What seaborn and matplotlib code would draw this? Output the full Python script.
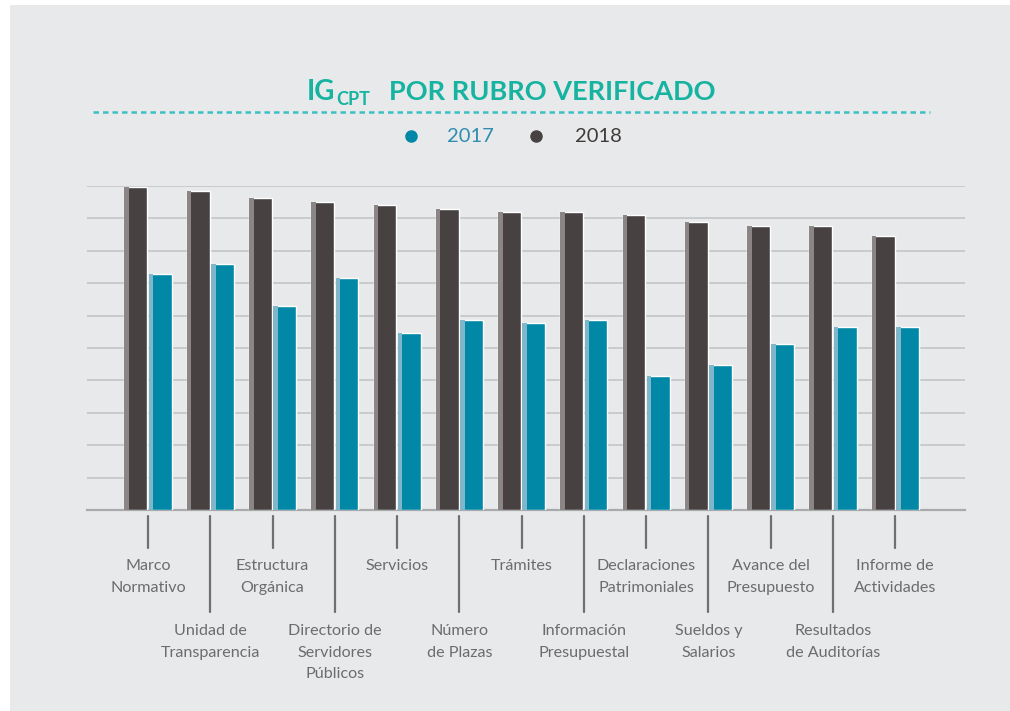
import matplotlib
matplotlib.use("Agg")
import matplotlib.pyplot as plt
import matplotlib.transforms as mtransforms
from matplotlib.patches import Rectangle
from matplotlib.lines import Line2D
import pandas as pd
import seaborn as sns

# data
RUBROS = ["Marco\nNormativo", "Unidad de\nTransparencia", "Estructura\nOrgánica",
          "Directorio de\nServidores\nPúblicos", "Servicios", "Número\nde Plazas",
          "Trámites", "Información\nPresupuestal", "Declaraciones\nPatrimoniales",
          "Sueldos y\nSalarios", "Avance del\nPresupuesto", "Resultados\nde Auditorías",
          "Informe de\nActividades"]
VALS_2018 = [99.6, 98.5, 96.3, 95.2, 94.1, 93.0, 92.0, 92.0, 90.9, 88.9, 87.7, 87.7, 84.6]
VALS_2017 = [72.7, 75.8, 63.0, 71.6, 54.5, 58.6, 57.7, 58.6, 41.4, 44.6, 51.1, 56.5, 56.5]

BG = "#e8e9eb"
DARK = "#474241"
DARK_EDGE = "#8b8685"
TEAL = "#0088a6"
TEAL_EDGE = "#80b6c9"
TITLE_C = "#16b3a0"
LABEL_C = "#6b6c6e"

df = pd.DataFrame({
    "rubro": list(range(len(RUBROS))) * 2,
    "valor": VALS_2018 + VALS_2017,
    "anio": ["2018"] * len(RUBROS) + ["2017"] * len(RUBROS),
})

sns.set_style("white")
plt.rcParams["font.family"] = ["Lato", "DejaVu Sans"]

fig = plt.figure(figsize=(10.1, 7.11), dpi=100, facecolor="white")
fig.patches.append(Rectangle((10 / 1010, 0), 1, 1 - 5 / 711, transform=fig.transFigure,
                             facecolor=BG, edgecolor="none", zorder=-10))

ax = fig.add_axes([87 / 1010, 1 - 510 / 711, 878 / 1010, 324 / 711])
ax.set_facecolor("none")

sns.barplot(data=df, x="rubro", y="valor", hue="anio", hue_order=["2018", "2017"],
            palette={"2018": DARK, "2017": TEAL}, saturation=1, width=0.78, gap=0.06,
            native_scale=True, legend=False, ax=ax, zorder=3)

# lighter strip on the left side of every bar
for cont, edge in zip(ax.containers, [DARK_EDGE, TEAL_EDGE]):
    for p in cont.patches:
        ax.add_patch(Rectangle((p.get_x(), 0), p.get_width() * 0.2, p.get_height(),
                               facecolor=edge, edgecolor="none", zorder=4))

ax.set_ylim(0, 100)
ax.set_xlim(-0.98, 13.12)
ax.set_yticks(range(0, 101, 10))
ax.yaxis.grid(True, color="#c9cacc", linewidth=1.4)
ax.set_axisbelow(True)
ax.tick_params(left=False, bottom=False, labelleft=False, labelbottom=False)
for s in ["left", "right", "top"]:
    ax.spines[s].set_visible(False)
ax.spines["bottom"].set_color("#a9aaac")
ax.spines["bottom"].set_linewidth(1.6)
ax.set_xlabel("")
ax.set_ylabel("")

# category labels, alternating rows with tick lines
trans = mtransforms.blended_transform_factory(ax.transData, ax.transAxes)
for i, lab in enumerate(RUBROS):
    if i % 2 == 0:
        y_end, y_txt = -0.117, -0.152
    else:
        y_end, y_txt = -0.315, -0.353
    ax.add_line(Line2D([i, i], [-0.0185, y_end], transform=trans, color="#6f7072",
                       linewidth=1.6, clip_on=False))
    ax.text(i, y_txt, lab, transform=trans, ha="center", va="top", fontsize=11.6,
            color=LABEL_C, linespacing=1.68)

# title
fig.text(307 / 1010, 1 - 100 / 711, "IG", fontsize=20, fontweight="bold", color=TITLE_C,
         va="baseline", ha="left")
fig.text(336 / 1010, 1 - 105 / 711, "CPT", fontsize=13, fontweight="bold", color=TITLE_C,
         va="baseline", ha="left")
fig.text(389 / 1010, 1 - 100 / 711, "POR RUBRO VERIFICADO", fontsize=19.5, fontweight="bold",
         color=TITLE_C, va="baseline", ha="left")
fig.add_artist(Line2D([93 / 1010, 930 / 1010], [1 - 112 / 711, 1 - 112 / 711],
                      transform=fig.transFigure, color="#3cc0c4", linewidth=1.8,
                      linestyle=(0, (2.2, 1.6))))

# legend
for xd, xt, lab, c, tc in [(411, 447, "2017", TEAL, "#2f8db0"), (536, 575, "2018", DARK, "#3f3b3a")]:
    fig.add_artist(Line2D([xd / 1010], [1 - 136 / 711], transform=fig.transFigure,
                          marker="o", markersize=8, color=c, linestyle="none"))
    fig.text(xt / 1010, 1 - 136 / 711, lab, fontsize=14.5, color=tc, va="center", ha="left")

fig.savefig("out.png", dpi=100, facecolor=fig.get_facecolor())
